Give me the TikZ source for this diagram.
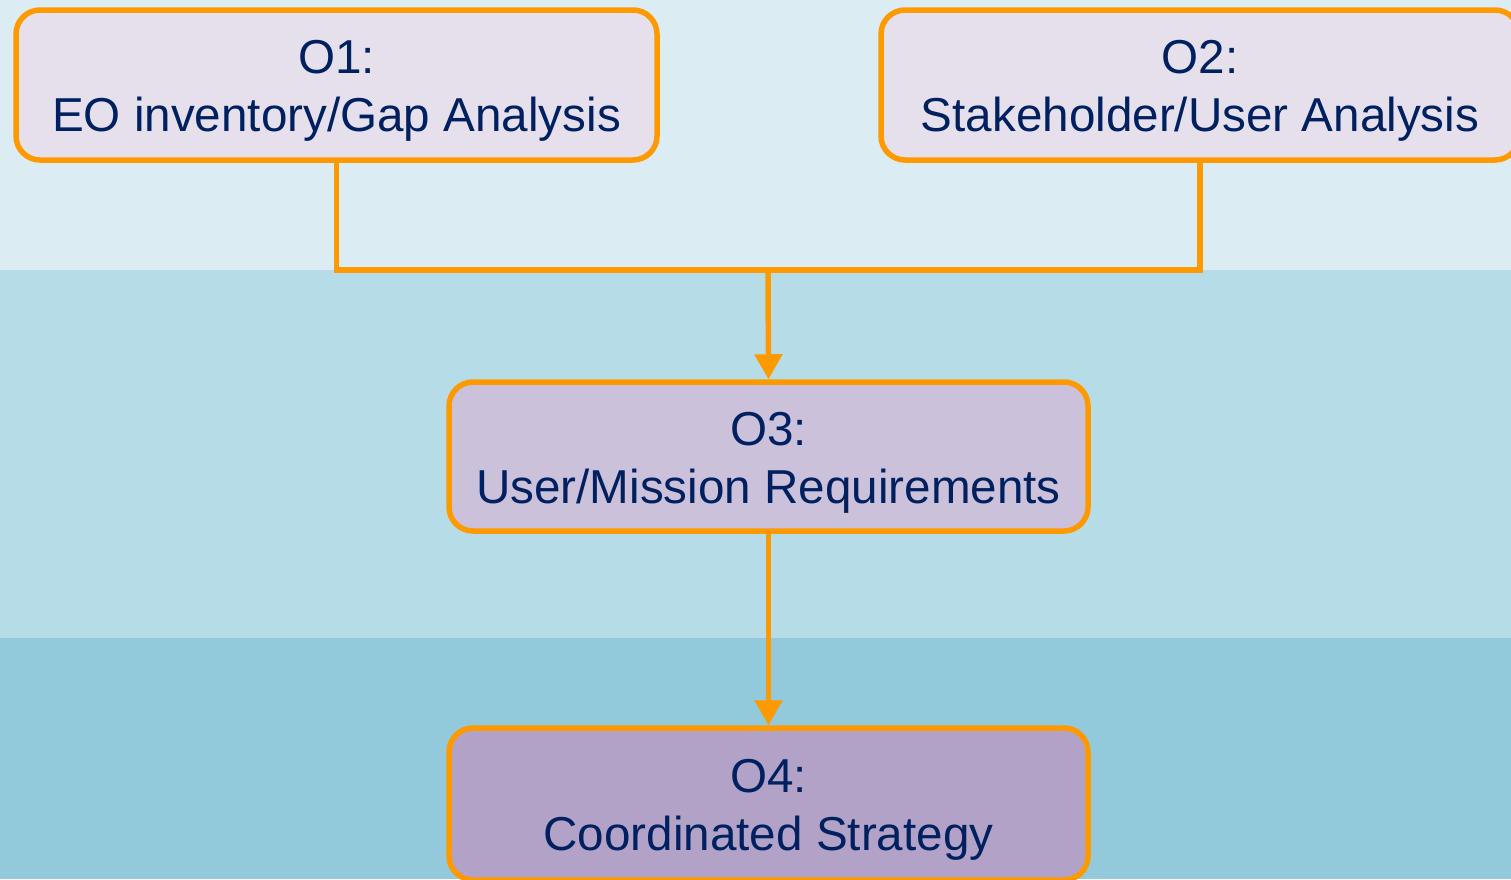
\documentclass[tikz,border=0pt]{standalone}
\usepackage{fontspec}
\setmainfont{Liberation Sans}
\usetikzlibrary{arrows.meta,calc}
\definecolor{bandA}{HTML}{DBEDF3}
\definecolor{bandB}{HTML}{B6DDE7}
\definecolor{bandC}{HTML}{92CADC}
\definecolor{fillA}{HTML}{E6E0EC}
\definecolor{fillB}{HTML}{CCC1DA}
\definecolor{fillC}{HTML}{B3A2C7}
\definecolor{txt}{HTML}{002060}
\definecolor{orng}{HTML}{FF9900}
\tikzset{
  obox/.style={draw=orng, line width=5.5pt, rounded corners=24pt, inner sep=0pt},
  otext/.style={text=txt, align=center, inner sep=0pt,
    font=\fontsize{47.6}{58}\selectfont},
  conn/.style={draw=orng, line width=5.5pt},
  arr/.style={conn, -{Triangle[length=25pt,width=27pt]}},
}
\begin{document}
\begin{tikzpicture}[x=1pt,y=-1pt]
\useasboundingbox (0,0) rectangle (1511,879);
\clip (0,0) rectangle (1511,879);
\fill[bandA] (0,0) rectangle (1511,270);
\fill[bandB] (0,270) rectangle (1511,638);
\fill[bandC] (0,638) rectangle (1511,879);
\node[obox, fill=fillA, minimum width=641pt, minimum height=150pt] (o1) at (336.5,85) {};
\node[obox, fill=fillA, minimum width=638pt, minimum height=150pt] (o2) at (1200,85) {};
\node[obox, fill=fillB, minimum width=639pt, minimum height=149pt] (o3) at (768.5,456.5) {};
\node[obox, fill=fillC, minimum width=639pt, minimum height=152pt] (o4) at (768.5,804) {};
\node[otext] (o1t) at ($(o1.center)+(0,6)$) {O1:\\EO inventory/Gap Analysis};
\node[otext] (o2t) at ($(o2.center)+(0,6)$) {O2:\\Stakeholder/User Analysis};
\node[otext] (o3t) at ($(o3.center)+(0,6)$) {O3:\\User/Mission Requirements};
\node[otext] (o4t) at ($(o4.center)+(0,6)$) {O4:\\Coordinated Strategy};
\coordinate (j) at (768,270);
\draw[conn, line join=miter] (o1.south) |- (j) -| (o2.south);
\draw[arr] (j) -- (o3.north);
\draw[arr] (o3.south) -- (o4.north);
\end{tikzpicture}
\end{document}
